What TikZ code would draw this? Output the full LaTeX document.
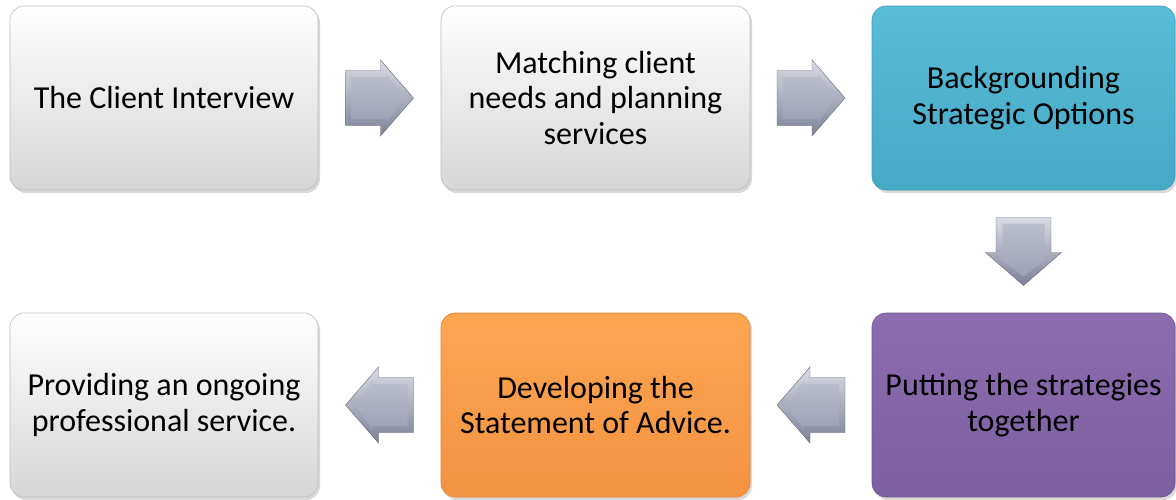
\documentclass[tikz,border=0pt]{standalone}
\usepackage{fontspec}
\setmainfont{Carlito}
\usetikzlibrary{shadows,calc}
\definecolor{cyanA}{HTML}{58BDD7}
\definecolor{cyanB}{HTML}{46A9C6}
\definecolor{cyanE}{HTML}{3E9CB8}
\definecolor{purA}{HTML}{8C6DB0}
\definecolor{purB}{HTML}{7C60A0}
\definecolor{purE}{HTML}{6E5590}
\definecolor{orA}{HTML}{FCA652}
\definecolor{orB}{HTML}{F39342}
\definecolor{orE}{HTML}{E0843A}
\definecolor{whA}{HTML}{FFFFFF}
\definecolor{whB}{HTML}{D6D6D6}
\definecolor{whE}{HTML}{BDBDBD}
\definecolor{arL}{HTML}{D9DCE5}
\definecolor{arD}{HTML}{7D8296}
\definecolor{arFA}{HTML}{BBBFCC}
\definecolor{arFB}{HTML}{9CA1B3}
\tikzset{
  box/.style={rounded corners=14pt, minimum height=184pt, align=center,
    font=\fontsize{32}{35.5}\selectfont, text=black, inner sep=4pt,
    drop shadow={shadow xshift=2pt, shadow yshift=-3pt, opacity=0.3}},
  whitebox/.style={box, minimum width=308pt, top color=whA, bottom color=whB, draw=whE, line width=0.6pt},
  cyanbox/.style={box, minimum width=303pt, top color=cyanA, bottom color=cyanB, draw=cyanE, line width=0.6pt},
  purbox/.style={box, minimum width=303pt, top color=purA, bottom color=purB, draw=purE, line width=0.6pt},
  orbox/.style={box, minimum width=309pt, top color=orA, bottom color=orB, draw=orE, line width=0.6pt},
  pics/blockarrow/.style={code={
    \shade[top color=arL, bottom color=arD, draw=arD!80!black, line width=0.4pt]
      (-34,-27.5) -- (1,-27.5) -- (1,-38) -- (34,0) -- (1,38) -- (1,27.5) -- (-34,27.5) -- cycle;
    \shade[top color=arFA, bottom color=arFB]
      (-28,-21) -- (7,-21) -- (7,-24) -- (25,0) -- (7,24) -- (7,21) -- (-28,21) -- cycle;
  }}
}
\begin{document}
\begin{tikzpicture}[x=1pt, y=-1pt]
\useasboundingbox (0,0) rectangle (1176,499);
\node[whitebox] (b1) at (164,98) {The Client Interview};
\node[whitebox, minimum width=309pt] (b2) at (595.5,98) {Matching client\\needs and planning\\services};
\node[cyanbox] (b3) at (1023.5,98) {Backgrounding\\Strategic Options};
\node[purbox] (b4) at (1023.5,405) {Putting the strategies\\together};
\node[orbox] (b5) at (595.5,405) {Developing the\\Statement of Advice.};
\node[whitebox] (b6) at (164,405) {Providing an ongoing\\professional service.};
\pic at ($(b1.east)!0.5!(b2.west)$) {blockarrow};
\pic at ($(b2.east)!0.5!(b3.west)$) {blockarrow};
\pic[rotate=-90] at ($(b3.south)!0.5!(b4.north)$) {blockarrow};
\pic[rotate=180] at ($(b4.west)!0.5!(b5.east)$) {blockarrow};
\pic[rotate=180] at ($(b5.west)!0.5!(b6.east)$) {blockarrow};
\end{tikzpicture}
\end{document}
